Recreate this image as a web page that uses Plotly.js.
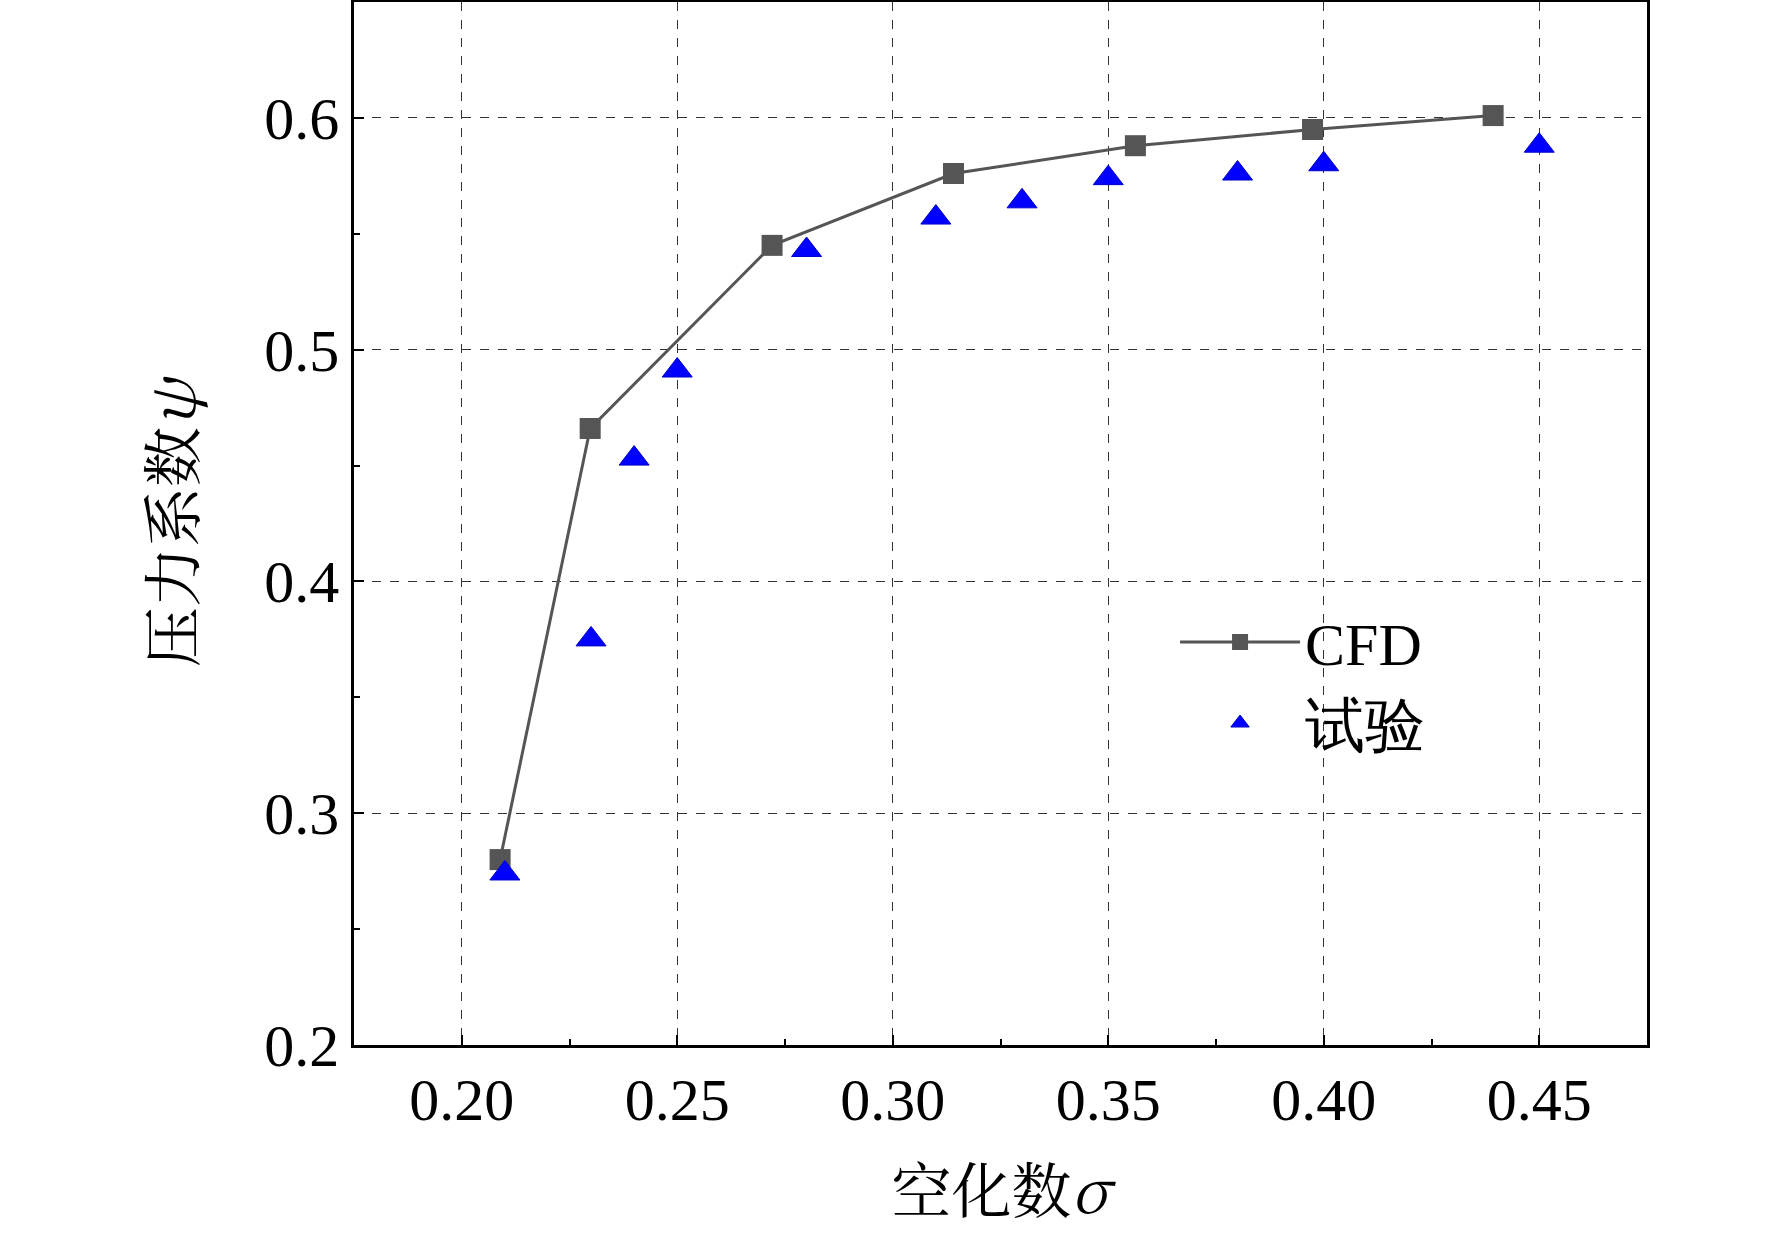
<!DOCTYPE html>
<html><head><meta charset="utf-8">
<script src="https://cdn.plot.ly/plotly-3.0.1.min.js"></script>
<style>body{margin:0;background:#fff}</style></head>
<body><div id="c" style="width:1772px;height:1241px"></div>
<script>
const cfdX = [0.2089, 0.2298, 0.272, 0.3141, 0.3563, 0.3974, 0.4393];
const cfdY = [0.280, 0.466, 0.545, 0.576, 0.588, 0.595, 0.601];
const expX = [0.21, 0.23, 0.24, 0.25, 0.28, 0.31, 0.33, 0.35, 0.38, 0.40, 0.45];
const expY = [0.274, 0.375, 0.453, 0.491, 0.543, 0.557, 0.564, 0.574, 0.576, 0.580, 0.588];
const xTicks = [0.20, 0.25, 0.30, 0.35, 0.40, 0.45];
const yTicks = [0.2, 0.3, 0.4, 0.5, 0.6];
const serif = 'Liberation Serif, Times New Roman, serif';
const cjk = 'Noto Serif CJK SC, Noto Sans CJK SC, serif';
const traces = [
 {x: cfdX, y: cfdY, name: 'CFD', mode: 'lines+markers', type: 'scatter',
  line: {color: '#555555', width: 3}, marker: {symbol: 'square', size: 21, color: '#555555'}},
 {x: expX, y: expY, name: '试验', mode: 'markers', type: 'scatter',
  marker: {symbol: 'triangle-up', size: 26, color: '#0000ff', line: {color: '#0000cc', width: 1}}}
];
const ax = {showline: true, mirror: true, linecolor: '#000', linewidth: 2.5, zeroline: false,
  showgrid: true, gridcolor: '#333', griddash: 'dash', gridwidth: 1,
  ticks: 'inside', ticklen: 10, tickwidth: 2, tickcolor: '#000',
  minor: {ticks: 'inside', ticklen: 6, tickwidth: 2, tickcolor: '#000', showgrid: false},
  tickfont: {family: serif, size: 60, color: '#000'}};
const layout = {
 width: 1772, height: 1241, margin: {l: 354, r: 125, t: 2, b: 196},
 paper_bgcolor: '#fff', plot_bgcolor: '#fff',
 xaxis: Object.assign({}, ax, {range: [0.175, 0.475], tickvals: xTicks, ticktext: xTicks.map(v => v.toFixed(2)),
   minor: Object.assign({}, ax.minor, {tickvals: [0.225, 0.275, 0.325, 0.375, 0.425]}),
   title: {text: '空化数<i>σ</i>', font: {family: cjk, size: 60, color: '#000'}, standoff: 40}}),
 yaxis: Object.assign({}, ax, {range: [0.2, 0.65], tickvals: yTicks, ticktext: yTicks.map(v => v.toFixed(1)),
   minor: Object.assign({}, ax.minor, {tickvals: [0.25, 0.35, 0.45, 0.55]}),
   title: {text: '压力系数<i>ψ</i>', font: {family: cjk, size: 60, color: '#000'}, standoff: 50}}),
 showlegend: true,
 legend: {x: 0.635, y: 0.43, xanchor: 'left', yanchor: 'top', bgcolor: 'rgba(0,0,0,0)',
   font: {family: serif, size: 60, color: '#000'}, itemwidth: 120, tracegroupgap: 0}
};
Plotly.newPlot('c', traces, layout, {displayModeBar: false});
</script></body></html>
